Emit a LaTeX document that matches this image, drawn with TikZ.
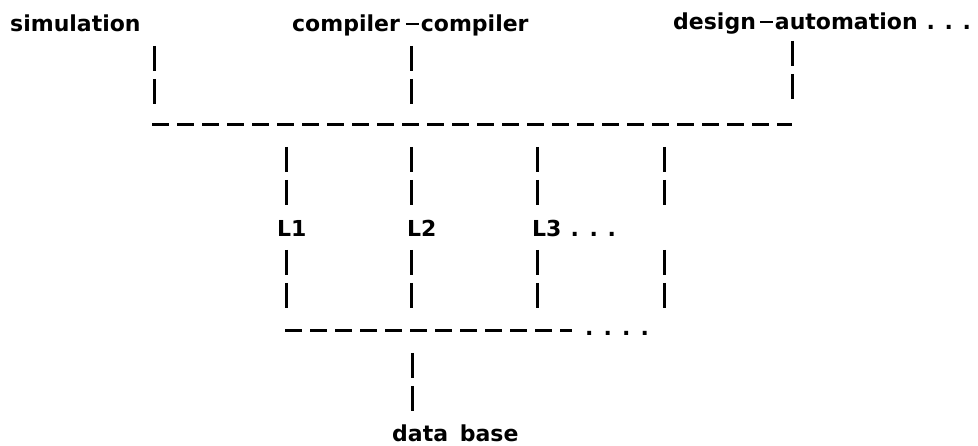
\documentclass[tikz,border=0pt]{standalone}
\usepackage{fontspec}
\setmainfont{DejaVu Sans}
\newcommand{\rdash}[1]{\hspace{#1}\rule[6.5pt]{13pt}{2.6pt}\hspace{2pt}}
\newcommand{\dotsp}[1]{\makebox[#1][l]{.}}
\begin{document}
\begin{tikzpicture}[x=1pt,y=-1pt,
  lbl/.style={inner sep=0pt,anchor=base west,font=\fontsize{22}{26}\selectfont\bfseries},
  vline/.style={line width=3pt,dash pattern=on 25pt off 8pt},
  hline/.style={line width=3pt,dash pattern=on 17pt off 8pt}]
\useasboundingbox (0,0) rectangle (978,446);
% labels
\node[lbl] (sim) at (10,32) {simulation};
\node[lbl] (cc) at (292,32) {compiler\rdash{6pt}compiler};
\node[lbl] (da) at (673,30) {design\rdash{4pt}automation\hspace{9pt}\dotsp{18pt}\dotsp{18pt}.};
\node[lbl] (L1) at (277,237) {L1};
\node[lbl] (L2) at (407,237) {L2};
\node[lbl] (L3) at (532,237) {L3\hspace{9pt}\dotsp{19pt}\dotsp{18pt}.};
\node[lbl] (db) at (392,442) {data\hspace{4pt} base};
\node[lbl] (dots) at (585,336) {\dotsp{18.5pt}\dotsp{18.5pt}\dotsp{18.5pt}.};
% coordinates
\coordinate (s1) at (154,46); \coordinate (s2) at (154,105);
\coordinate (cc1) at (411,46); \coordinate (cc2) at (411,105);
\coordinate (da1) at (792,41); \coordinate (da2) at (792,100);
\coordinate (busL) at (152,125); \coordinate (busR) at (792,125);
\foreach \n/\x in {la/286,lb/411,lc/537,ld/664}{
  \coordinate (\n1) at (\x,147); \coordinate (\n2) at (\x,207);
  \coordinate (\n3) at (\x,250); \coordinate (\n4) at (\x,310);
}
\coordinate (lbL) at (285,331); \coordinate (lbR) at (572,331);
\coordinate (e1) at (412,353); \coordinate (e2) at (412,413);
% connectors
\draw[vline] (s1) -- (s2);
\draw[vline] (cc1) -- (cc2);
\draw[vline] (da1) -- (da2);
\draw[hline] (busL) -- (busR);
\foreach \n in {la,lb,lc,ld}{
  \draw[vline] (\n1) -- (\n2);
  \draw[vline] (\n3) -- (\n4);
}
\draw[hline] (lbL) -- (lbR);
\draw[vline] (e1) -- (e2);
\end{tikzpicture}
\end{document}
